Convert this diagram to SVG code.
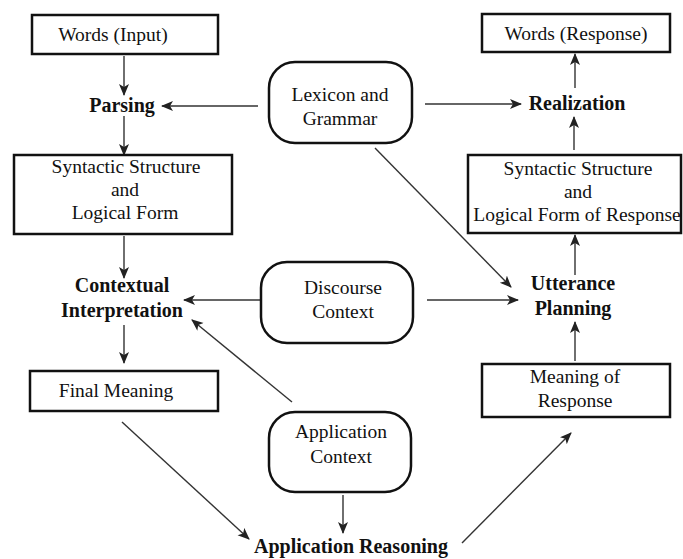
<svg xmlns="http://www.w3.org/2000/svg" width="683" height="559" viewBox="0 0 683 559">
<style>
.box{fill:#fff;stroke:#111;stroke-width:2.5}
.t{font-family:"Liberation Serif","Times New Roman",serif;font-size:19.5px;fill:#111;text-anchor:middle}
.b{font-weight:bold;font-size:20px}
.c{stroke:#333;stroke-width:1.4;fill:none;marker-end:url(#ah)}
</style>
<defs>
<marker id="ah" markerUnits="userSpaceOnUse" markerWidth="14" markerHeight="12" refX="11" refY="5" orient="auto">
<path d="M0,0 L12,5 L0,10 L3,5 Z" fill="#222"/>
</marker>
</defs>
<rect width="683" height="559" fill="#fff"/>
<g id="connectors">
<line class="c" x1="124" y1="56" x2="124" y2="95"/>
<line class="c" x1="258" y1="106" x2="162" y2="106"/>
<line class="c" x1="124" y1="116" x2="124" y2="155"/>
<line class="c" x1="124" y1="236" x2="124" y2="278"/>
<line class="c" x1="260" y1="300" x2="184" y2="300"/>
<line class="c" x1="292" y1="402" x2="192" y2="320"/>
<line class="c" x1="124" y1="325" x2="124" y2="363"/>
<line class="c" x1="122" y1="422" x2="249" y2="539"/>
<line class="c" x1="343" y1="495" x2="343" y2="533"/>
<line class="c" x1="462" y1="543" x2="571" y2="433"/>
<line class="c" x1="575" y1="361" x2="575" y2="322"/>
<line class="c" x1="427" y1="300" x2="518" y2="300"/>
<line class="c" x1="375" y1="148" x2="511" y2="287"/>
<line class="c" x1="425" y1="104" x2="521" y2="104"/>
<line class="c" x1="575" y1="275" x2="575" y2="235"/>
<line class="c" x1="574" y1="150" x2="574" y2="117"/>
<line class="c" x1="575" y1="88" x2="575" y2="54"/>
</g>
<g id="words-input">
<rect class="box" x="32" y="15" width="186" height="39"/>
<text class="t" x="113" y="41">Words (Input)</text>
</g>
<g id="parsing">
<text class="t b" x="122" y="112">Parsing</text>
</g>
<g id="syntactic-structure">
<rect class="box" x="14" y="155" width="218" height="79"/>
<text class="t" x="126" y="173">Syntactic Structure</text>
<text class="t" x="125" y="196">and</text>
<text class="t" x="125" y="219">Logical Form</text>
</g>
<g id="lexicon-grammar">
<rect class="box" x="269" y="62" width="143" height="81" rx="26"/>
<text class="t" x="340" y="101">Lexicon and</text>
<text class="t" x="340" y="125">Grammar</text>
</g>
<g id="words-response">
<rect class="box" x="482" y="14" width="188" height="38"/>
<text class="t" x="576" y="40">Words (Response)</text>
</g>
<g id="realization">
<text class="t b" x="577" y="110">Realization</text>
</g>
<g id="syntactic-response">
<rect class="box" x="468" y="155" width="213" height="78"/>
<text class="t" x="578" y="175">Syntactic Structure</text>
<text class="t" x="578" y="198">and</text>
<text class="t" x="577" y="221">Logical Form of Response</text>
</g>
<g id="contextual-interpretation">
<text class="t b" x="122" y="292">Contextual</text>
<text class="t b" x="122" y="317">Interpretation</text>
</g>
<g id="discourse-context">
<rect class="box" x="261" y="262" width="152" height="81" rx="26"/>
<text class="t" x="343" y="294">Discourse</text>
<text class="t" x="343" y="318">Context</text>
</g>
<g id="utterance-planning">
<text class="t b" x="573" y="290">Utterance</text>
<text class="t b" x="573" y="315">Planning</text>
</g>
<g id="final-meaning">
<rect class="box" x="30" y="371" width="188" height="40"/>
<text class="t" x="116" y="397">Final Meaning</text>
</g>
<g id="meaning-response">
<rect class="box" x="482" y="364" width="188" height="53"/>
<text class="t" x="575" y="383">Meaning of</text>
<text class="t" x="575" y="407">Response</text>
</g>
<g id="application-context">
<rect class="box" x="269" y="412" width="142" height="80" rx="26"/>
<text class="t" x="341" y="438">Application</text>
<text class="t" x="341" y="463">Context</text>
</g>
<g id="application-reasoning">
<text class="t b" x="351" y="553">Application Reasoning</text>
</g>
</svg>
